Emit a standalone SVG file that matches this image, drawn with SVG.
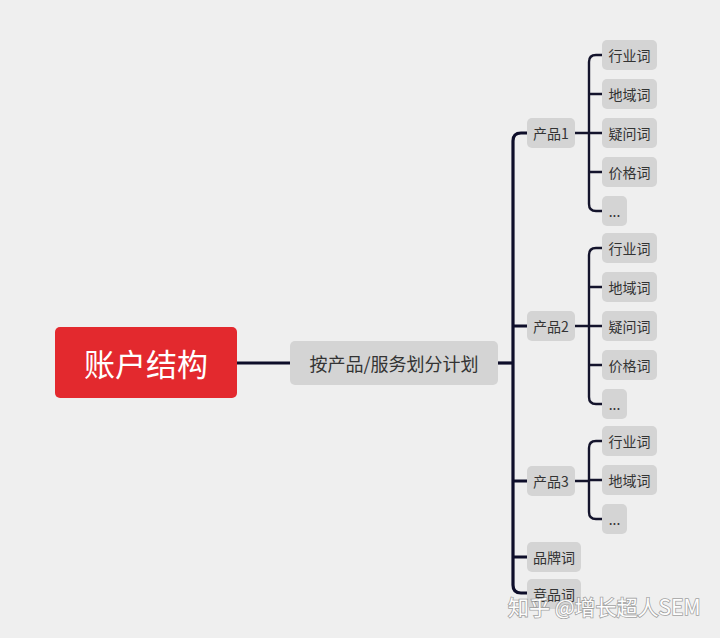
<svg xmlns="http://www.w3.org/2000/svg" width="720" height="638" viewBox="0 0 720 638">
<style>
.bg{fill:#efefef}
.root{fill:#e3292e}
.box{fill:#d4d4d4}
.t{font-family:"Noto Sans CJK SC","Liberation Sans",sans-serif;fill:#333;text-anchor:middle;dominant-baseline:central}
.rt{font-size:31px;fill:#fff}
.mt{font-size:18px}
.st{font-size:14px}
.trunk{fill:none;stroke:#0e0e2a;stroke-width:3.2}
.br{fill:none;stroke:#14142c;stroke-width:2.4}
.wm{font-family:"Noto Sans CJK SC","Liberation Sans",sans-serif;font-size:21px;fill:#fff;stroke:#9a9a9a;stroke-width:1.6;paint-order:stroke;opacity:0.9}
</style>
<rect class="bg" x="0" y="0" width="720" height="638"/>
<g id="connectors">
<path class="trunk" d="M237 363H290"/>
<path class="trunk" d="M498 363H513"/>
<path class="trunk" d="M527 133H521Q513 133 513 141V585Q513 593 521 593H527"/>
<path class="trunk" d="M513 326H527M513 481H527M513 557H527"/>
<path class="br" d="M575 133H589M602 55H596Q589 55 589 62V204Q589 211 596 211H602M589 94H602M589 133H602M589 172H602"/>
<path class="br" d="M575 326H589M602 248H596Q589 248 589 255V397Q589 404 596 404H602M589 287H602M589 326H602M589 365H602"/>
<path class="br" d="M575 481H589M602 441H596Q589 441 589 448V512Q589 519 596 519H602M589 480H602"/>
</g>
<g id="root"><rect class="root" x="55" y="327" width="182" height="71" rx="5"/><text class="t rt" x="146" y="362">账户结构</text></g>
<g id="plan"><rect class="box" x="290" y="341" width="208" height="44" rx="5"/><text class="t mt" x="394" y="363">按产品/服务划分计划</text></g>
<g id="p1"><rect class="box" x="527" y="118" width="48" height="30" rx="5"/><text class="t st" x="551" y="133">产品1</text></g>
<g id="p2"><rect class="box" x="527" y="311" width="48" height="30" rx="5"/><text class="t st" x="551" y="326">产品2</text></g>
<g id="p3"><rect class="box" x="527" y="466" width="48" height="30" rx="5"/><text class="t st" x="551" y="481">产品3</text></g>
<g id="brand"><rect class="box" x="527" y="542" width="54" height="30" rx="5"/><text class="t st" x="554" y="557">品牌词</text></g>
<g id="comp"><rect class="box" x="527" y="579" width="54" height="30" rx="5"/><text class="t st" x="554" y="594">竞品词</text></g>
<g id="p1a"><rect class="box" x="602" y="40" width="55" height="30" rx="5"/><text class="t st" x="629.5" y="55">行业词</text></g>
<g id="p1b"><rect class="box" x="602" y="79" width="55" height="30" rx="5"/><text class="t st" x="629.5" y="94">地域词</text></g>
<g id="p1c"><rect class="box" x="602" y="118" width="55" height="30" rx="5"/><text class="t st" x="629.5" y="133">疑问词</text></g>
<g id="p1d"><rect class="box" x="602" y="157" width="55" height="30" rx="5"/><text class="t st" x="629.5" y="172">价格词</text></g>
<g id="p1e"><rect class="box" x="602" y="196" width="25" height="30" rx="5"/><text class="t st" x="614.5" y="211">...</text></g>
<g id="p2a"><rect class="box" x="602" y="233" width="55" height="30" rx="5"/><text class="t st" x="629.5" y="248">行业词</text></g>
<g id="p2b"><rect class="box" x="602" y="272" width="55" height="30" rx="5"/><text class="t st" x="629.5" y="287">地域词</text></g>
<g id="p2c"><rect class="box" x="602" y="311" width="55" height="30" rx="5"/><text class="t st" x="629.5" y="326">疑问词</text></g>
<g id="p2d"><rect class="box" x="602" y="350" width="55" height="30" rx="5"/><text class="t st" x="629.5" y="365">价格词</text></g>
<g id="p2e"><rect class="box" x="602" y="389" width="25" height="30" rx="5"/><text class="t st" x="614.5" y="404">...</text></g>
<g id="p3a"><rect class="box" x="602" y="426" width="55" height="30" rx="5"/><text class="t st" x="629.5" y="441">行业词</text></g>
<g id="p3b"><rect class="box" x="602" y="465" width="55" height="30" rx="5"/><text class="t st" x="629.5" y="480">地域词</text></g>
<g id="p3c"><rect class="box" x="602" y="504" width="25" height="30" rx="5"/><text class="t st" x="614.5" y="519">...</text></g>
<text class="wm" x="508" y="615">知乎 @增长超人SEM</text>
</svg>
